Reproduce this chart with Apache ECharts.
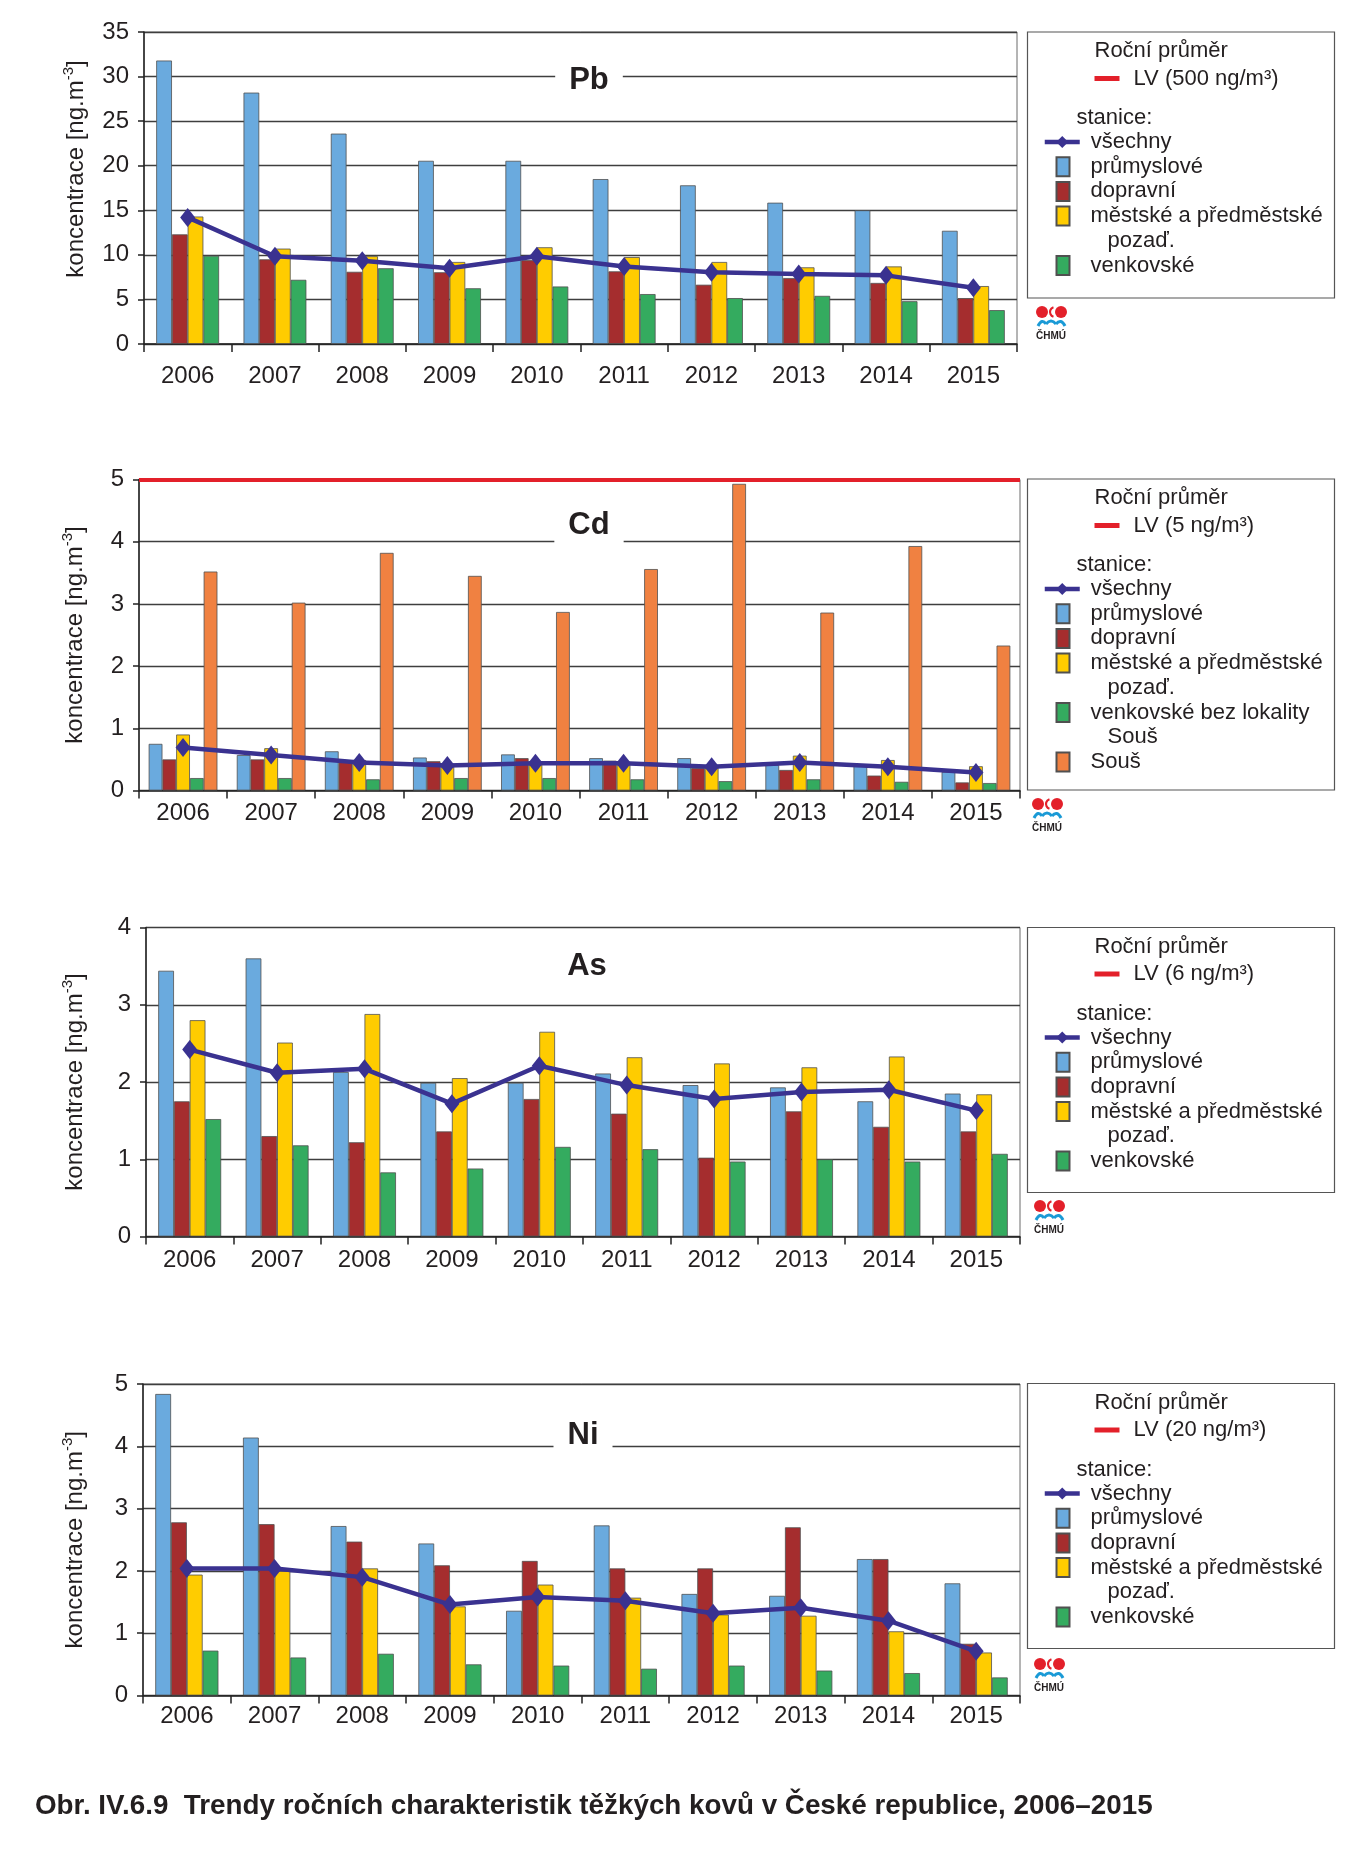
<!DOCTYPE html>
<html><head><meta charset="utf-8">
<script src="https://cdn.jsdelivr.net/npm/echarts@6/dist/echarts.min.js"></script>
<style>html,body{margin:0;padding:0;background:#fff}#c{width:1367px;height:1851px}</style>
</head><body><div id="c"></div>
<script>
// ---------------- DATA ----------------
const years = ['2006','2007','2008','2009','2010','2011','2012','2013','2014','2015'];

const pbIndustrial = [31.8, 28.2, 23.6, 20.55, 20.55, 18.5, 17.8, 15.85, 15.0, 12.7];
const pbTraffic    = [12.3, 9.5, 8.1, 8.05, 9.4, 8.15, 6.65, 7.4, 6.85, 5.15];
const pbUrban      = [14.3, 10.7, 9.85, 9.2, 10.85, 9.75, 9.2, 8.6, 8.7, 6.5];
const pbRural      = [9.9, 7.2, 8.5, 6.25, 6.45, 5.6, 5.15, 5.4, 4.8, 3.8];
const pbAll        = [14.2, 9.85, 9.35, 8.5, 9.85, 8.7, 8.05, 7.85, 7.7, 6.3];

const cdIndustrial = [0.75, 0.57, 0.63, 0.53, 0.58, 0.52, 0.52, 0.41, 0.4, 0.3];
const cdTraffic    = [0.5, 0.5, 0.47, 0.47, 0.52, 0.48, 0.36, 0.33, 0.24, 0.13];
const cdUrban      = [0.9, 0.68, 0.49, 0.42, 0.47, 0.45, 0.4, 0.56, 0.49, 0.39];
const cdRural      = [0.2, 0.2, 0.18, 0.2, 0.2, 0.18, 0.15, 0.18, 0.14, 0.12];
const cdSous       = [3.52, 3.02, 3.82, 3.45, 2.87, 3.56, 4.93, 2.86, 3.93, 2.33];
const cdAll        = [0.69, 0.57, 0.45, 0.4, 0.44, 0.44, 0.38, 0.45, 0.38, 0.29];

const asIndustrial = [3.44, 3.6, 2.13, 1.99, 1.99, 2.11, 1.96, 1.93, 1.75, 1.85];
const asTraffic    = [1.75, 1.3, 1.22, 1.36, 1.78, 1.59, 1.02, 1.62, 1.42, 1.36];
const asUrban      = [2.8, 2.51, 2.88, 2.05, 2.65, 2.32, 2.24, 2.19, 2.33, 1.84];
const asRural      = [1.52, 1.18, 0.83, 0.88, 1.16, 1.13, 0.97, 1.0, 0.97, 1.07];
const asAll        = [2.42, 2.12, 2.17, 1.72, 2.21, 1.96, 1.78, 1.87, 1.9, 1.63];

const niIndustrial = [4.84, 4.14, 2.72, 2.44, 1.36, 2.73, 1.63, 1.6, 2.19, 1.8];
const niTraffic    = [2.78, 2.75, 2.47, 2.09, 2.16, 2.04, 2.04, 2.7, 2.19, 0.83];
const niUrban      = [1.94, 2.0, 2.04, 1.43, 1.78, 1.57, 1.3, 1.28, 1.03, 0.69];
const niRural      = [0.72, 0.61, 0.67, 0.5, 0.48, 0.43, 0.48, 0.4, 0.36, 0.29];
const niAll        = [2.04, 2.04, 1.9, 1.46, 1.58, 1.52, 1.32, 1.41, 1.2, 0.71];

const limitValues = {Pb: 500, Cd: 5, As: 6, Ni: 20};
const limitLabels = {Pb: 'LV (500 ng/m³)', Cd: 'LV (5 ng/m³)', As: 'LV (6 ng/m³)', Ni: 'LV (20 ng/m³)'};
const yMax = {Pb: 35, Cd: 5, As: 4, Ni: 5};
const yInterval = {Pb: 5, Cd: 1, As: 1, Ni: 1};

const caption = 'Obr. IV.6.9  Trendy ročních charakteristik těžkých kovů v České republice, 2006–2015';

// ---------------- STYLE / LAYOUT ----------------
const FONT = '"Liberation Sans", Arial, Helvetica, sans-serif';
const TXT = '#231f20';
const COL = {ind:'#6aaade', traf:'#a52d2e', urb:'#ffcc00', rur:'#34ab5f', sous:'#f08141', all:'#3a3290', lv:'#e3202a'};

const N_IND = 'průmyslové', N_TRAF = 'dopravní', N_URB = 'městské a předměstské pozaď.', N_RUR = 'venkovské',
      N_RUR2 = 'venkovské bez lokality Souš', N_SOUS = 'Souš', N_ALL = 'všechny';

const panels = [
  {el:'Pb', grid:{left:144, top:32, width:873, height:312}, boxTop:32, boxH:266, title:[589,80], logo:[1036,305], nameGap:53, namePad:38, gap:'28%', lblMargin:20,
   bars:[{name:N_IND, data:pbIndustrial, color:COL.ind},{name:N_TRAF, data:pbTraffic, color:COL.traf},
         {name:N_URB, data:pbUrban, color:COL.urb, label:'městské a předměstské', cont:'pozaď.'},{name:N_RUR, data:pbRural, color:COL.rur}],
   all:pbAll},
  {el:'Cd', grid:{left:139, top:479.5, width:881, height:311}, boxTop:479, boxH:311, title:[589,525], logo:[1032,797], nameGap:49, namePad:0, gap:'22%', lblMargin:11,
   bars:[{name:N_IND, data:cdIndustrial, color:COL.ind},{name:N_TRAF, data:cdTraffic, color:COL.traf},
         {name:N_URB, data:cdUrban, color:COL.urb, label:'městské a předměstské', cont:'pozaď.'},
         {name:N_RUR2, data:cdRural, color:COL.rur, label:'venkovské bez lokality', cont:'Souš'},
         {name:N_SOUS, data:cdSous, color:COL.sous}],
   all:cdAll},
  {el:'As', grid:{left:146, top:927.5, width:874, height:309}, boxTop:927.5, boxH:265, title:[587,966], logo:[1034,1199], nameGap:56, namePad:0, gap:'28%', lblMargin:12,
   bars:[{name:N_IND, data:asIndustrial, color:COL.ind},{name:N_TRAF, data:asTraffic, color:COL.traf},
         {name:N_URB, data:asUrban, color:COL.urb, label:'městské a předměstské', cont:'pozaď.'},{name:N_RUR, data:asRural, color:COL.rur}],
   all:asAll},
  {el:'Ni', grid:{left:143, top:1384, width:877, height:311.5}, boxTop:1383.5, boxH:265, title:[583,1435], logo:[1034,1657], nameGap:53, namePad:0, gap:'28%', lblMargin:9,
   bars:[{name:N_IND, data:niIndustrial, color:COL.ind},{name:N_TRAF, data:niTraffic, color:COL.traf},
         {name:N_URB, data:niUrban, color:COL.urb, label:'městské a předměstské', cont:'pozaď.'},{name:N_RUR, data:niRural, color:COL.rur}],
   all:niAll}
];

const grids = [], xAxes = [], yAxes = [], series = [], legends = [], elements = [];
const ROW = 24.7;
const BX = 1027.5;           // legend box left
const legendText = {fontSize:22, fontFamily:FONT, color:TXT, lineHeight:24};

panels.forEach((p, i) => {
  grids.push(Object.assign({show:true, borderColor:'#6a6a6a', borderWidth:1, backgroundColor:'transparent'}, p.grid));
  xAxes.push({
    type:'category', gridIndex:i, data:years, boundaryGap:true,
    axisLine:{show:true, lineStyle:{color:'#222', width:1.5}},
    axisTick:{show:true, length:8, alignWithLabel:false, lineStyle:{color:'#222', width:1.5}},
    axisLabel:{fontSize:24, fontFamily:FONT, color:TXT, margin:p.lblMargin},
    splitLine:{show:false}
  });
  yAxes.push({
    type:'value', gridIndex:i, min:0, max:yMax[p.el], interval:yInterval[p.el],
    axisLine:{show:true, lineStyle:{color:'#222', width:1.5}},
    axisTick:{show:true, length:6, lineStyle:{color:'#222', width:1.5}},
    axisLabel:{fontSize:24, fontFamily:FONT, color:TXT, margin:15},
    splitLine:{show:true, lineStyle:{color:'#3e3e3e', width:1.3}},
    name:'{a|koncentrace [ng.m}{s|-3}{a|]}', nameLocation:'middle', nameRotate:90, nameGap:p.nameGap,
    nameTextStyle:{fontSize:24, fontFamily:FONT, color:TXT, padding:[0,0,0,p.namePad],
      rich:{a:{fontSize:24, fontFamily:FONT, color:TXT, lineHeight:30},
            s:{fontSize:15, fontFamily:FONT, color:TXT, lineHeight:14, verticalAlign:'top'}}}
  });
  p.bars.forEach(b => {
    series.push({
      type:'bar', name:b.name, xAxisIndex:i, yAxisIndex:i, data:b.data,
      barGap:'0%', barCategoryGap:p.gap,
      itemStyle:{color:b.color, borderColor:'#505050', borderWidth:0.8}, z:2
    });
  });
  series.push({
    type:'line', name:N_ALL, xAxisIndex:i, yAxisIndex:i, data:p.all,
    symbol:'diamond', symbolSize:[15,19],
    lineStyle:{color:COL.all, width:4.5}, itemStyle:{color:COL.all}, z:10
  });
  const lvSeries = {
    type:'line', name:limitLabels[p.el], xAxisIndex:i, yAxisIndex:i, data:[],
    lineStyle:{color:COL.lv, width:4}, itemStyle:{color:COL.lv}, symbol:'none', z:12
  };
  if (limitValues[p.el] <= yMax[p.el]) {
    lvSeries.markLine = {silent:true, symbol:'none', label:{show:false},
      lineStyle:{color:COL.lv, width:4, type:'solid'}, data:[{yAxis:limitValues[p.el]}]};
  }
  series.push(lvSeries);

  // legend box and headers
  const T = p.boxTop;
  elements.push({type:'rect', z:1, shape:{x:BX, y:T, width:307, height:p.boxH},
    style:{fill:'#fff', stroke:'#555', lineWidth:1.2}});
  elements.push({type:'text', z:6, x:BX+67, y:T+19, style:{text:'Roční průměr', font:'22px '+FONT, fill:TXT, verticalAlign:'middle'}});
  elements.push({type:'text', z:6, x:BX+49, y:T+86, style:{text:'stanice:', font:'22px '+FONT, fill:TXT, verticalAlign:'middle'}});

  legends.push({orient:'vertical', left:BX+67, top:T+46.5-12, padding:0, itemGap:0, itemWidth:25, itemHeight:5,
    selectedMode:false, data:[{name:limitLabels[p.el], icon:'rect', itemStyle:{color:COL.lv, borderWidth:0}}],
    textStyle:Object.assign({padding:[0,0,0,9]}, legendText)});
  legends.push({orient:'vertical', left:BX+15, top:T+110-12, padding:0, itemGap:0, itemWidth:35, itemHeight:15,
    selectedMode:false, data:[{name:N_ALL, lineStyle:{width:4.5, color:COL.all}}],
    textStyle:Object.assign({padding:[0,0,0,6]}, legendText)});

  let row = 1;
  p.bars.forEach(b => {
    const y = T + 110 + ROW*row;
    legends.push({orient:'vertical', left:BX+28, top:y-12, padding:0, itemGap:0, itemWidth:13, itemHeight:19,
      selectedMode:false, data:[{name:b.name, icon:'rect'}], formatter: b.label || '{name}',
      textStyle:Object.assign({padding:[0,0,0,16]}, legendText)});
    row++;
    if (b.cont) {
      elements.push({type:'text', z:6, x:BX+80, y:T+110+ROW*row, style:{text:b.cont, font:'22px '+FONT, fill:TXT, verticalAlign:'middle'}});
      row++;
    }
  });

  // panel title
  elements.push({type:'text', z:8, x:p.title[0], y:p.title[1],
    style:{text:p.el, font:'bold 31px '+FONT, fill:TXT, align:'center', verticalAlign:'middle',
      backgroundColor:'#fff', padding:[6,14,6,14]}});

  // ČHMÚ logo
  const lx = p.logo[0], ly = p.logo[1];
  elements.push({type:'circle', z:6, shape:{cx:lx+6, cy:ly+7, r:6}, style:{fill:'#e3202a'}});
  elements.push({type:'circle', z:6, shape:{cx:lx+25, cy:ly+7, r:6}, style:{fill:'#e3202a'}});
  elements.push({type:'arc', z:6, shape:{cx:lx+19, cy:ly+7, r:5, startAngle:Math.PI*0.6, endAngle:Math.PI*1.4},
    style:{stroke:'#e3202a', lineWidth:2.2, fill:'none'}});
  [[2,21,6,13,10,19],[10,19,15,13,20,19],[20,19,25,13,29,21]].forEach(s => {
    elements.push({type:'bezierCurve', z:6, shape:{x1:lx+s[0], y1:ly+s[1], cpx1:lx+s[2], cpy1:ly+s[3], x2:lx+s[4], y2:ly+s[5]},
      style:{stroke:'#1a9ad6', lineWidth:3, fill:null}});
  });
  elements.push({type:'text', z:6, x:lx+15, y:ly+31, style:{text:'ČHMÚ', font:'bold 10px '+FONT, fill:TXT, align:'center', verticalAlign:'middle'}});
});

elements.push({type:'text', z:6, x:35, y:1806, style:{text:caption, font:'bold 27.8px '+FONT, fill:TXT, verticalAlign:'middle'}});

const chart = echarts.init(document.getElementById('c'), null, {renderer:'canvas'});
chart.setOption({
  animation:false,
  backgroundColor:'#fff',
  grid:grids, xAxis:xAxes, yAxis:yAxes, series:series, legend:legends,
  graphic:{elements:elements}
});
</script></body></html>
